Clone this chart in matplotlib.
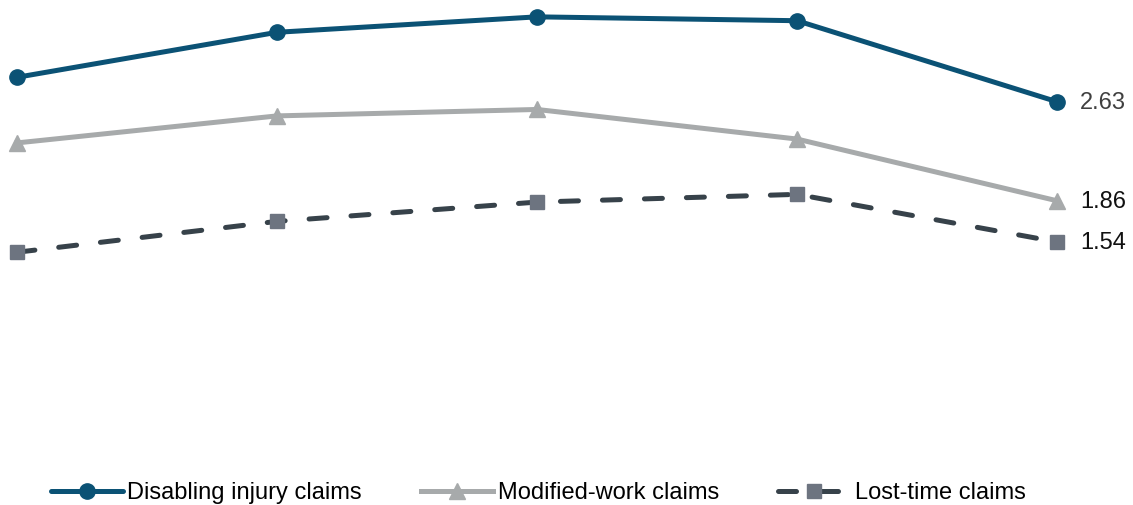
import matplotlib
matplotlib.use("Agg")
import matplotlib.pyplot as plt

plt.rcParams['font.family'] = ['Liberation Sans', 'DejaVu Sans']

periods = [0, 1, 2, 3, 4]
disabling = [2.82, 3.17, 3.29, 3.26, 2.63]
modified = [2.31, 2.52, 2.57, 2.34, 1.86]
lost_time = [1.46, 1.70, 1.85, 1.91, 1.54]
series_names = ["Disabling injury claims", "Modified-work claims", "Lost-time claims"]
end_labels = ["2.63", "1.86", "1.54"]

fig = plt.figure(figsize=(11.33, 5.05), dpi=100)
ax = fig.add_axes([0, 0, 1, 1])
ax.set_xlim(-0.0654, 4.292)
ax.set_ylim(-0.505, 3.421)
ax.axis('off')

l1, = ax.plot(periods, disabling, color='#0B5275', lw=3.6, marker='o', ms=11,
              label=series_names[0], solid_capstyle='round')
l2, = ax.plot(periods, modified, color='#A7AAAB', lw=3.6, marker='^', ms=11,
              label=series_names[1])
l3, = ax.plot(periods, lost_time, color='#37424A', lw=3.6, marker='s', ms=10.5,
              mfc='#6D7480', mec='#6D7480', label=series_names[2],
              dashes=(3.6, 4.8), dash_capstyle='round')

for vals, lab, col in zip([disabling, modified, lost_time], end_labels,
                          ['#404040', '#111111', '#111111']):
    ax.annotate(lab, (periods[-1], vals[-1]), xytext=(16.5, -1), textcoords='offset points',
                va='center', ha='left', fontsize=17, color=col)

leg = fig.legend(handles=[l1, l2, l3], loc='center', bbox_to_anchor=(0.475, 0.024),
                 ncol=3, frameon=False, fontsize=17, handlelength=3.05,
                 handletextpad=0.2, columnspacing=2.5)

fig.savefig('out.png', dpi=100)
